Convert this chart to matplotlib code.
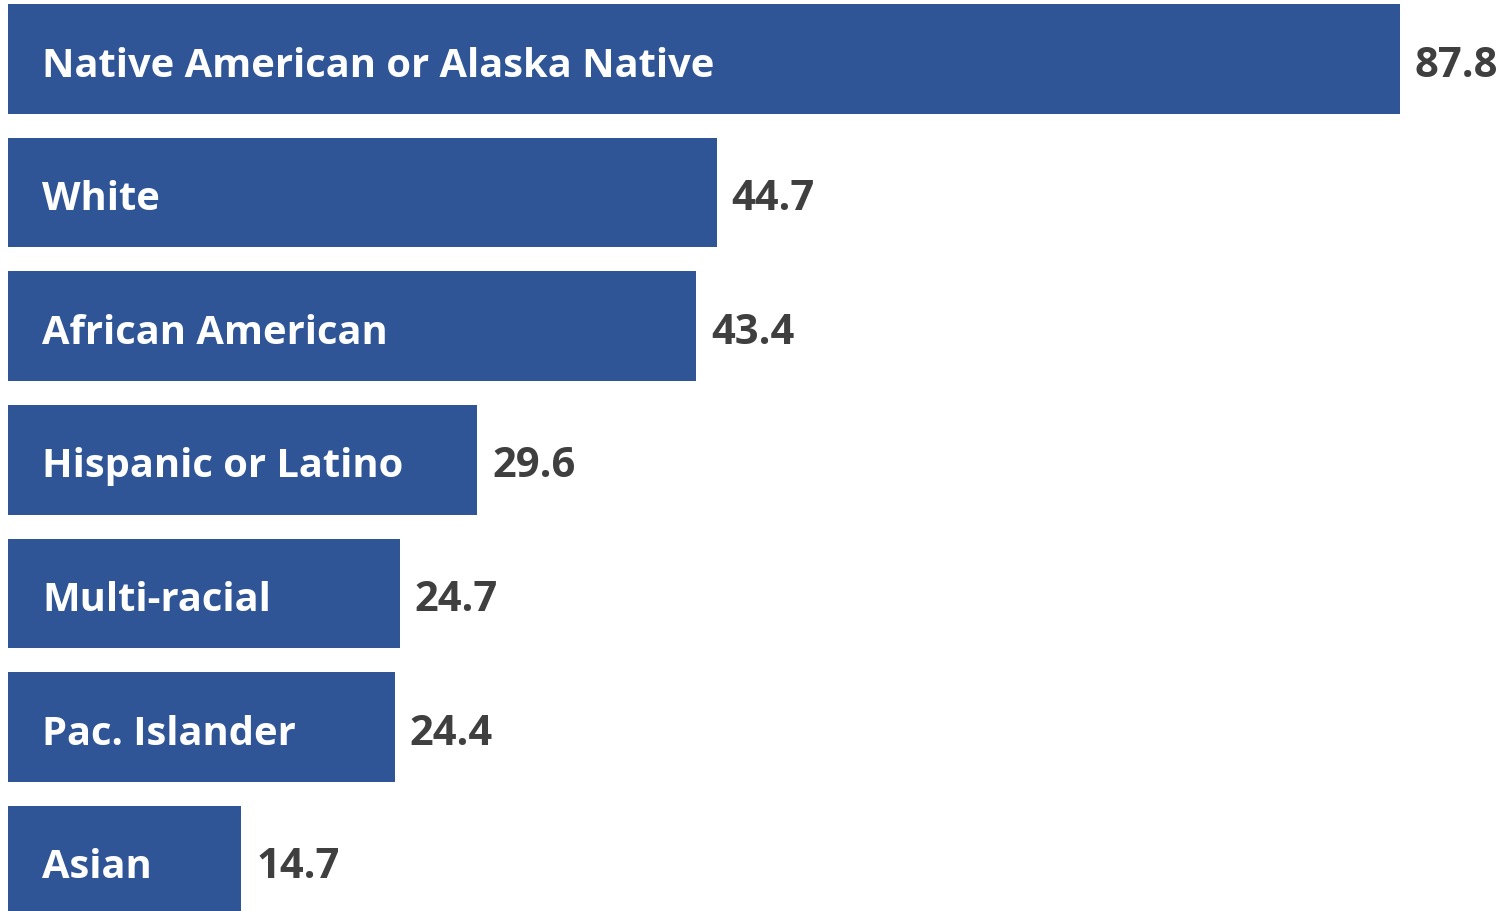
import matplotlib.pyplot as plt

groups = ['Native American or Alaska Native', 'White', 'African American',
          'Hispanic or Latino', 'Multi-racial', 'Pac. Islander', 'Asian']
rates = [87.8, 44.7, 43.4, 29.6, 24.7, 24.4, 14.7]

bar_color = '#2F5597'
val_color = '#3F3F3F'

fig = plt.figure(figsize=(15.06, 9.12), dpi=100)
ax = fig.add_axes([0, 0, 1, 1])

pos = list(range(len(groups)))
ax.barh(pos, rates, height=0.82, color=bar_color)

# one data unit is ~15.85 px across the figure
px = 87.8 / 1392
for i, (g, v) in enumerate(zip(groups, rates)):
    ax.text(34 * px, i + 0.045, g, color='white', fontsize=28.7, fontweight='bold',
            family='Open Sans', va='center', ha='left')
    ax.text(v + 15 * px, i + 0.045, f'{v:.1f}', color=val_color, fontsize=30,
            fontweight='bold', family='Open Sans', va='center', ha='left')

ax.set_xlim(-8 * px, (1506 - 8) * px)
ax.set_ylim(6.377, -0.449)
ax.axis('off')

fig.savefig('out.png', dpi=100)
